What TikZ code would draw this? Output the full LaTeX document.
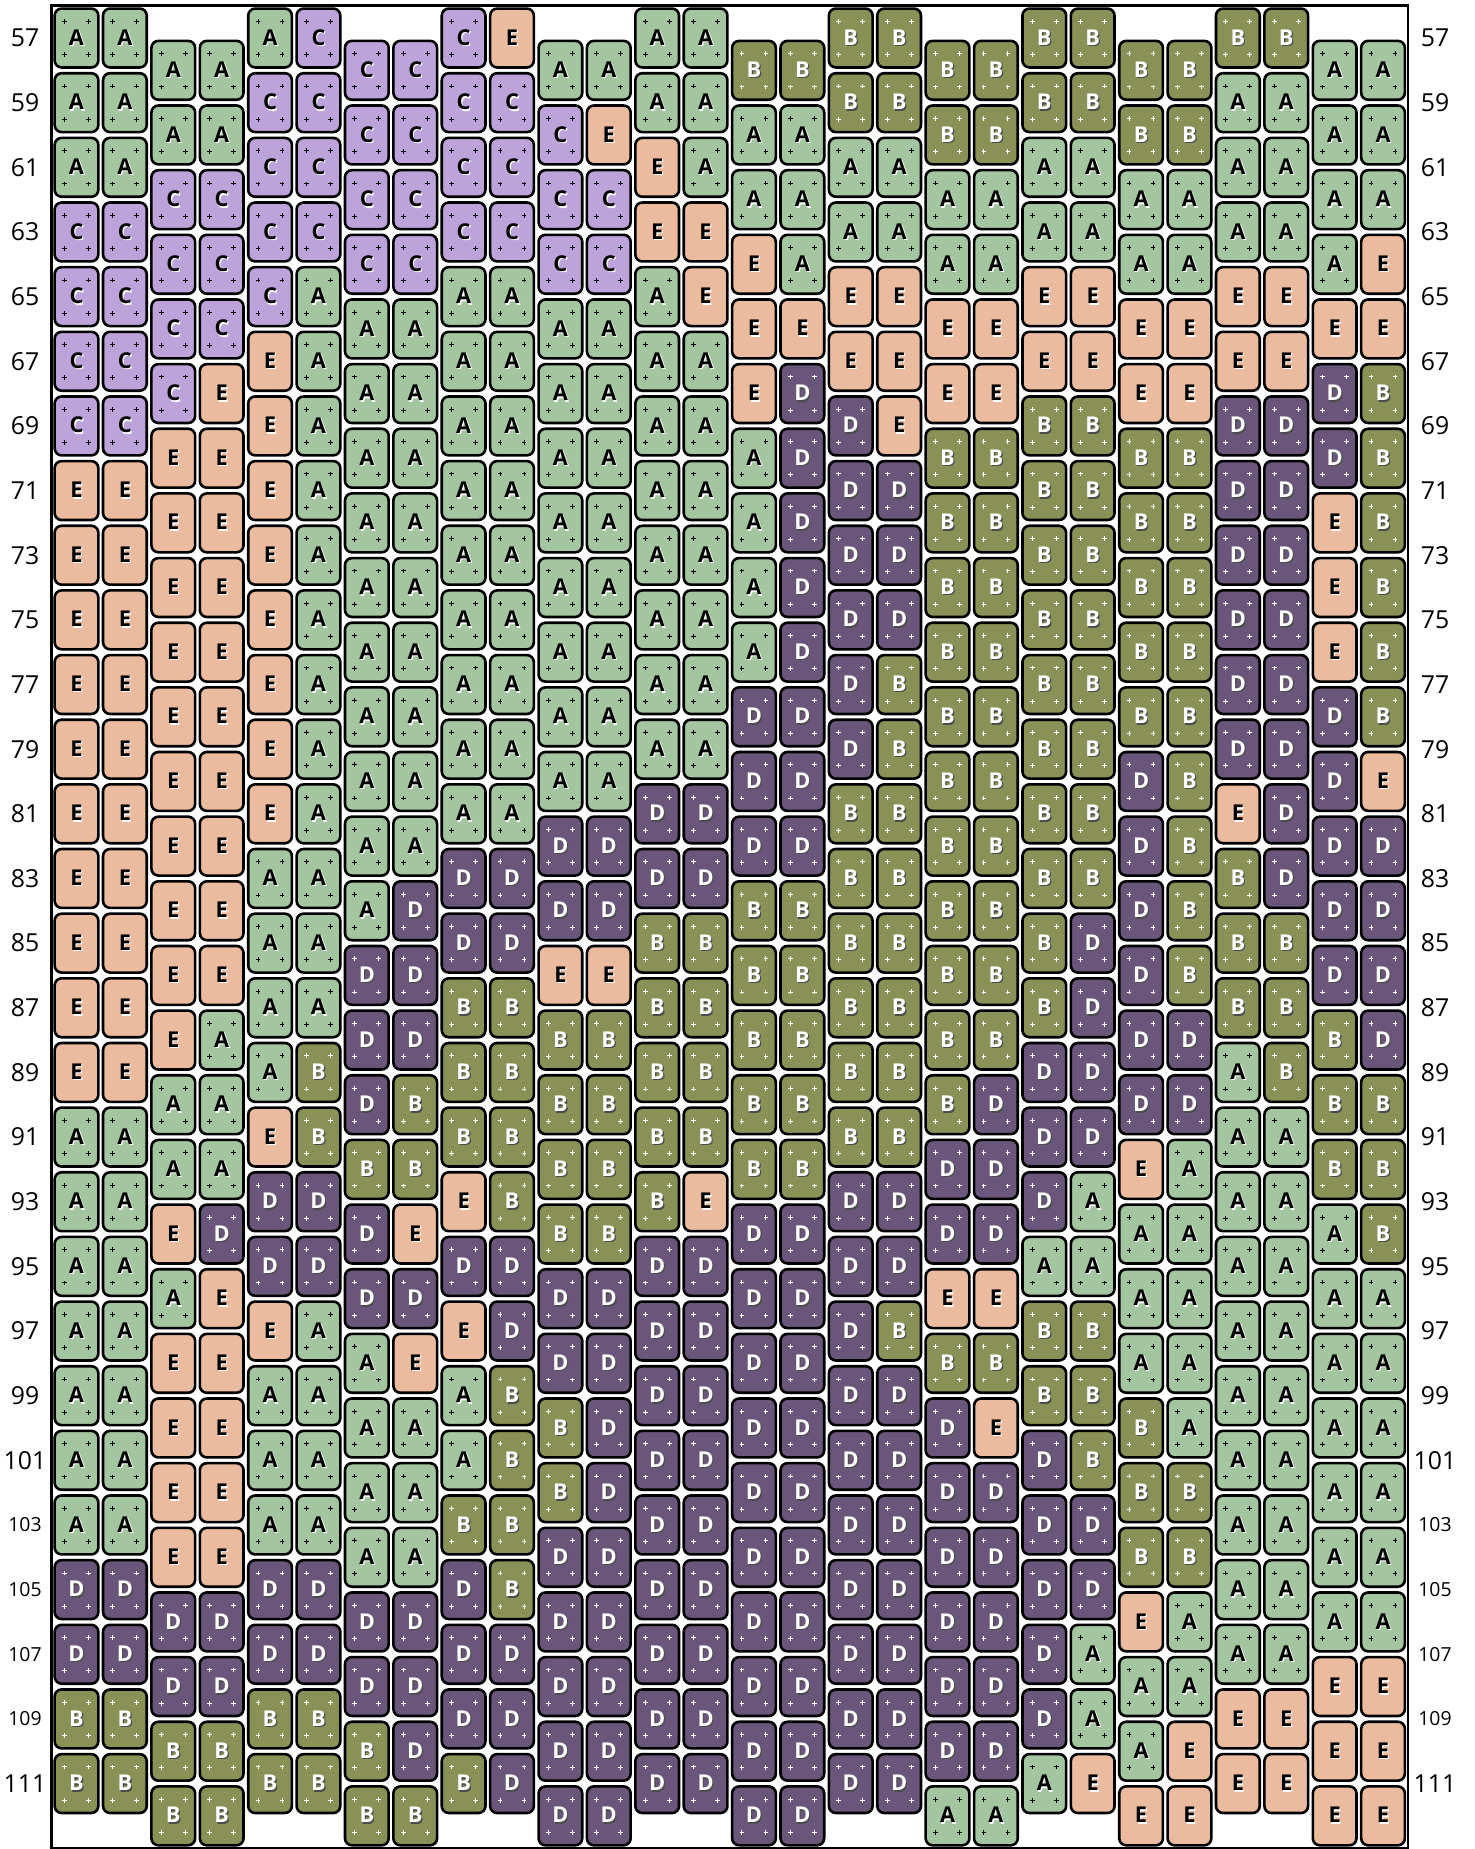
\documentclass[tikz,border=0pt]{standalone}
\usepackage{fontspec}
\setmainfont{Open Sans}
\usepackage{tikz}

\definecolor{colA}{HTML}{A3C6A0}
\definecolor{colB}{HTML}{899156}
\definecolor{colC}{HTML}{BCA3D9}
\definecolor{colD}{HTML}{6A567A}
\definecolor{colE}{HTML}{EABB9E}

\def\inkA{black}\def\inkB{white}\def\inkC{black}\def\inkD{white}\def\inkE{black}
\def\shdA{white}\def\shdB{black!70}\def\shdC{white}\def\shdD{black!70}\def\shdE{white}

\tikzset{
    tile/.style={draw=black, line width=1.3pt, rounded corners=3.5pt,
        minimum width=21.85pt, minimum height=29.45pt, inner sep=0pt,
        font=\fontsize{10.9}{12}\selectfont\bfseries},
    rownum/.style={inner sep=0pt},
    plusmark/.style={line width=0.5pt}
}

\begin{document}
\begin{tikzpicture}[x=0.5pt,y=-0.5pt]
    \fill[white] (0,0) rectangle (1475,1849);
    \useasboundingbox (0,0) rectangle (1475,1849);
    % tile columns, top to bottom
    \foreach \colno/\seq in {
        0/{A,A,A,C,C,C,C,E,E,E,E,E,E,E,E,E,E,A,A,A,A,A,A,A,D,D,B,B},
        1/{A,A,A,C,C,C,C,E,E,E,E,E,E,E,E,E,E,A,A,A,A,A,A,A,D,D,B,B},
        2/{A,A,C,C,C,C,E,E,E,E,E,E,E,E,E,E,A,A,E,A,E,E,E,E,D,D,B,B},
        3/{A,A,C,C,C,E,E,E,E,E,E,E,E,E,E,A,A,A,D,E,E,E,E,E,D,D,B,B},
        4/{A,C,C,C,C,E,E,E,E,E,E,E,E,A,A,A,A,E,D,D,E,A,A,A,D,D,B,B},
        5/{C,C,C,C,A,A,A,A,A,A,A,A,A,A,A,A,B,B,D,D,A,A,A,A,D,D,B,B},
        6/{C,C,C,C,A,A,A,A,A,A,A,A,A,A,D,D,D,B,D,D,A,A,A,A,D,D,B,B},
        7/{C,C,C,C,A,A,A,A,A,A,A,A,A,D,D,D,B,B,E,D,E,A,A,A,D,D,D,B},
        8/{C,C,C,C,A,A,A,A,A,A,A,A,A,D,D,B,B,B,E,D,E,A,A,B,D,D,D,B},
        9/{E,C,C,C,A,A,A,A,A,A,A,A,A,D,D,B,B,B,B,D,D,B,B,B,B,D,D,D},
        10/{A,C,C,C,A,A,A,A,A,A,A,A,D,D,E,B,B,B,B,D,D,B,B,D,D,D,D,D},
        11/{A,E,C,C,A,A,A,A,A,A,A,A,D,D,E,B,B,B,B,D,D,D,D,D,D,D,D,D},
        12/{A,A,E,E,A,A,A,A,A,A,A,A,D,D,B,B,B,B,B,D,D,D,D,D,D,D,D,D},
        13/{A,A,A,E,E,A,A,A,A,A,A,A,D,D,B,B,B,B,E,D,D,D,D,D,D,D,D,D},
        14/{B,A,A,E,E,E,A,A,A,A,D,D,D,B,B,B,B,B,D,D,D,D,D,D,D,D,D,D},
        15/{B,A,A,A,E,D,D,D,D,D,D,D,D,B,B,B,B,B,D,D,D,D,D,D,D,D,D,D},
        16/{B,B,A,A,E,E,D,D,D,D,D,D,B,B,B,B,B,B,D,D,D,D,D,D,D,D,D,D},
        17/{B,B,A,A,E,E,E,D,D,D,B,B,B,B,B,B,B,B,D,D,B,D,D,D,D,D,D,D},
        18/{B,B,A,A,E,E,B,B,B,B,B,B,B,B,B,B,B,D,D,E,B,D,D,D,D,D,D,A},
        19/{B,B,A,A,E,E,B,B,B,B,B,B,B,B,B,B,D,D,D,E,B,E,D,D,D,D,D,A},
        20/{B,B,A,A,E,E,B,B,B,B,B,B,B,B,B,B,D,D,D,A,B,B,D,D,D,D,D,A},
        21/{B,B,A,A,E,E,B,B,B,B,B,B,B,B,D,D,D,D,A,A,B,B,B,D,D,A,A,E},
        22/{B,B,A,A,E,E,B,B,B,B,B,D,D,D,D,D,D,E,A,A,A,B,B,B,E,A,A,E},
        23/{B,B,A,A,E,E,B,B,B,B,B,B,B,B,B,D,D,A,A,A,A,A,B,B,A,A,E,E},
        24/{B,A,A,A,E,E,D,D,D,D,D,D,E,B,B,B,A,A,A,A,A,A,A,A,A,A,E,E},
        25/{B,A,A,A,E,E,D,D,D,D,D,D,D,D,B,B,B,A,A,A,A,A,A,A,A,A,E,E},
        26/{A,A,A,A,E,D,D,E,E,E,D,D,D,D,D,B,B,B,A,A,A,A,A,A,A,E,E,E},
        27/{A,A,A,E,E,B,B,B,B,B,B,E,D,D,D,D,B,B,B,A,A,A,A,A,A,E,E,E}}{
        \pgfmathsetmacro{\xc}{76.5+48.39*\colno}
        \pgfmathsetmacro{\yc}{38+32.3*mod(floor(\colno/2),2)}
        \foreach \ltr [count=\r from 0] in \seq {
            \edef\ink{\csname ink\ltr\endcsname}
            \edef\shd{\csname shd\ltr\endcsname}
            \node[tile, fill=col\ltr, text=\ink] (t\colno-\r) at (\xc,\yc+64.65*\r)
                {\raisebox{-0.6pt}{\rlap{\hspace{0.6pt}\raisebox{-0.7pt}{\color{\shd}\ltr}}\ltr}};
            \if\ltr E\else
                \foreach \dx/\dy in {-6/8.3,6/8.3,-6/-8.3,6/-8.3}
                    \draw[plusmark, draw=\ink] ([shift={(\dx pt,\dy pt)}]t\colno-\r.center)
                        +(-1.2pt,0) -- +(1.2pt,0) +(0,-1.2pt) -- +(0,1.2pt);
            \fi
        }
    }
    % row numbers, both sides
    \foreach \n [count=\r from 0] in {57,59,...,111} {
        \ifnum\n>101 \ifnum\n<111 \def\fs{9.7}\else\def\fs{12.4}\fi\else\def\fs{12.4}\fi
        \node[rownum, font=\fontsize{\fs}{14}\selectfont] (lnum\r) at (25,38+64.65*\r) {\n};
        \node[rownum, font=\fontsize{\fs}{14}\selectfont] (rnum\r) at (1435,38+64.65*\r) {\n};
    }
    \draw[line width=1.25pt] (51.5,5.5) rectangle (1408,1848);
\end{tikzpicture}
\end{document}
